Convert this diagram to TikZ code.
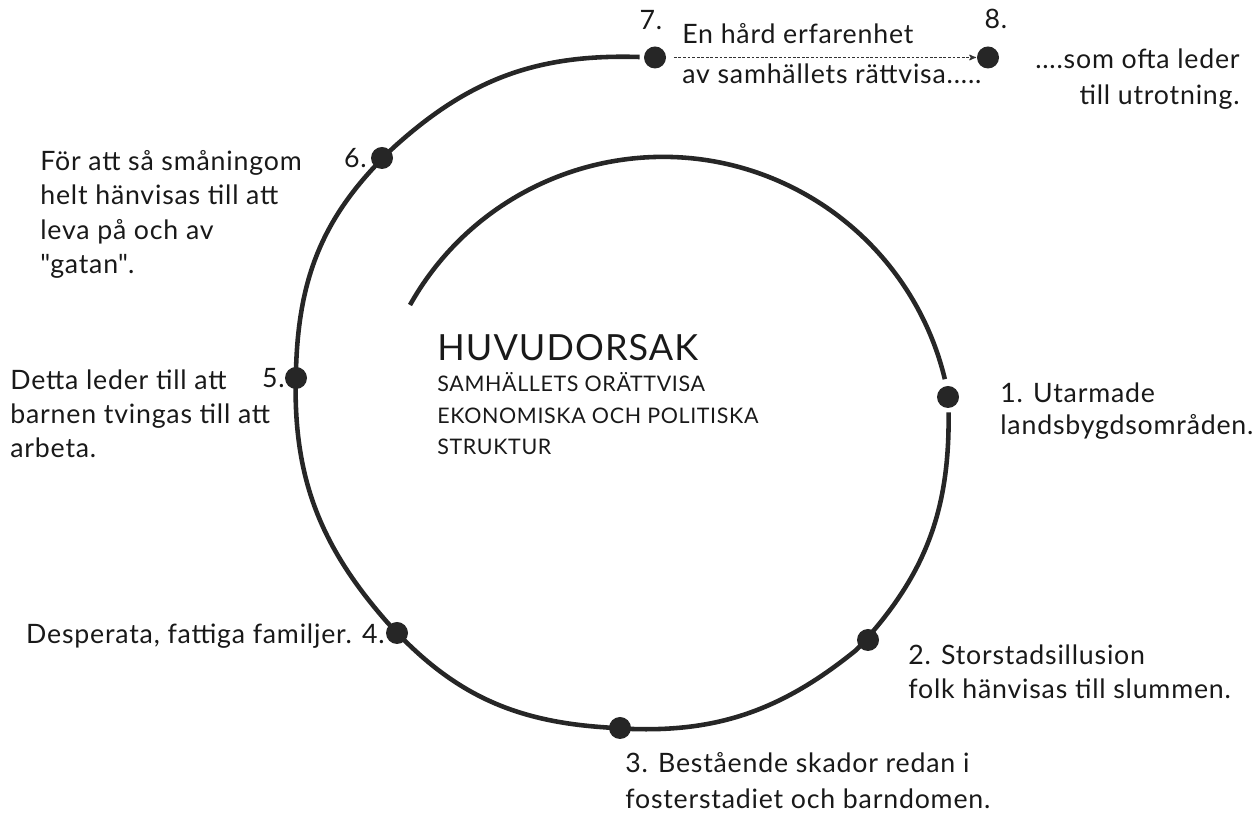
\documentclass[tikz,border=0pt]{standalone}
\usepackage{fontspec}
\setmainfont{Lato}[LetterSpace=3]
\usetikzlibrary{arrows,positioning}
\tikzset{
    %Define standard arrow tip
    >=stealth',
    %Define style for the dots
    stage/.style={
      circle,
      fill=black!85,
      inner sep=0pt,
      minimum size=0.44cm,
      outer sep=2.5pt},
    % Define style for the texts
    txt/.style={
      inner sep=0pt,
      align=left,
      text=black!90,
      font=\fontsize{15.2}{19.6}\selectfont},
    % Define style for the spiral
    spiral/.style={
      line width=2.6pt,
      draw=black!85},
    % Define dotted arrow style
    dotarr/.style={
      ->,
      line width=0.5pt,
      draw=black!80,
      dash pattern=on 1.6pt off 1pt,
      shorten <=2pt,
      shorten >=-2pt}
}
\begin{document}
\begin{tikzpicture}
  \useasboundingbox (0,0) rectangle (25.14,16.4);
  % dots on the spiral
  \node[stage] (s7) at (13.10,15.25) {};
  \node[stage] (s8) at (19.76,15.25) {};
  \node[stage] (s6) at (7.64,13.24) {};
  \node[stage] (s5) at (5.92,8.84) {};
  \node[stage] (s4) at (7.94,3.74) {};
  \node[stage] (s3) at (12.40,1.84) {};
  \node[stage] (s2) at (17.36,3.60) {};
  \node[stage] (s1) at (18.96,8.46) {};
  \coordinate (inend) at (8.20,10.30);
  % the spiral
  \draw[spiral] (s7) to[bend right=22] (s6) to[bend right=22] (s5)
    to[bend right=22] (s4) to[bend right=22] (s3)
    to[bend right=22] (s2) to[bend right=22] (s1);
  \draw[spiral] (inend) arc[start angle=150.7, end angle=13.5, radius=5.8];
  \draw[dotarr] (s7) -- (s8);
  % numbers
  \node[txt, anchor=base] (n7) at (13.02,15.80) {7.};
  \node[txt, anchor=base] (n8) at (19.92,15.82) {8.};
  \node[txt, anchor=base east] (n6) at (7.34,13.04) {6.};
  \node[txt, anchor=base east] (n5) at (5.70,8.64) {5.};
  % texts (base = last line)
  \node[txt, anchor=base west] (t7) at (13.64,14.72)
    {En hård erfarenhet\\[3.5pt]av samhällets rättvisa.....};
  \node[txt, anchor=base east, align=right] (t8) at (24.80,14.30)
    {....som ofta leder\\[1.4pt]till utrotning.};
  \node[txt, anchor=base west] (t6) at (0.80,10.93)
    {För att så småningom\\helt hänvisas till att\\leva på och av\\\textquotedbl gatan\textquotedbl.};
  \node[txt, anchor=base west] (t5) at (0.20,7.24)
    {Detta leder till att\\barnen tvingas till att\\arbeta.};
  \node[txt, anchor=base east] (t4) at (7.70,3.52)
    {Desperata, fattiga familjer. 4.};
  \node[txt, anchor=base west] (t3) at (12.50,0.22)
    {3. Bestående skador redan i\\[1pt]fosterstadiet och barndomen.};
  \node[txt, anchor=base west] (t2) at (18.16,2.42)
    {2. Storstadsillusion\\folk hänvisas till slummen.};
  \node[txt, anchor=base west] (t1) at (20.0,7.70)
    {1. Utarmade\\[-1pt]landsbygdsområden.};
  % centre
  \node[txt, anchor=base west, font=\fontsize{20.5}{22}\selectfont] (cause) at (8.74,9.18)
    {HUVUDORSAK};
  \node[txt, anchor=base west, font=\fontsize{12.2}{18}\selectfont] (struct) at (8.74,7.30)
    {SAMHÄLLETS ORÄTTVISA\\EKONOMISKA OCH POLITISKA\\STRUKTUR};
\end{tikzpicture}
\end{document}
